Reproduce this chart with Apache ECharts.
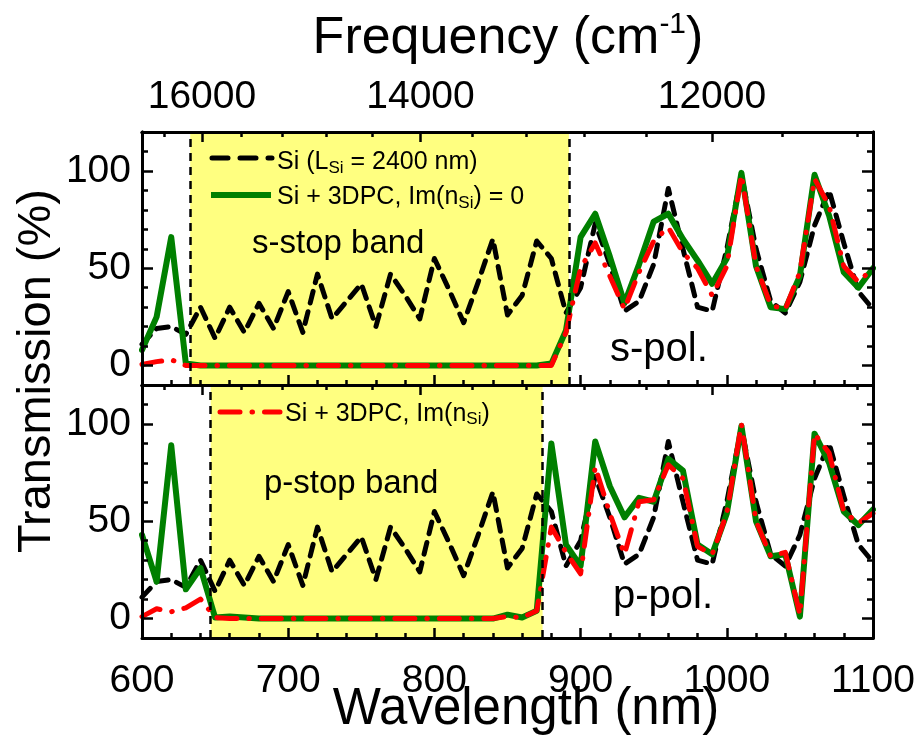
<!DOCTYPE html>
<html>
<head>
<meta charset="utf-8">
<script src="https://cdn.jsdelivr.net/npm/echarts@6/dist/echarts.min.js"></script>
<style>
  html, body { margin: 0; padding: 0; background: #fff; }
  #chart { width: 923px; height: 740px; }
</style>
</head>
<body>
<div id="chart"></div>
<script>
// Wavelength samples (nm)
const wavelength = [600, 610, 620, 630, 640, 650, 660, 670, 680, 690,
  700, 710, 720, 730, 740, 750, 760, 770, 780, 790,
  800, 810, 820, 830, 840, 850, 860, 870, 880, 890,
  900, 910, 920, 930, 940, 950, 960, 970, 980, 990,
  1000, 1010, 1020, 1030, 1040, 1050, 1060, 1070, 1080, 1090, 1100];

// Bare Si slab (L_Si = 2400 nm), same for both polarisations
const siSlab = [11, 19, 20, 16, 30, 14, 30, 17, 32, 19,
  38, 17, 47, 24, 33, 42, 20, 47, 36, 24,
  55, 39, 22, 43, 65, 26, 36, 64, 55, 27,
  40, 73, 52, 28, 33, 52, 91, 60, 30, 28,
  60, 98, 60, 33, 27, 43, 72, 90, 63, 38, 29];

// s-polarisation, Si + 3DPC with Im(n_Si) = 0
const sPolLossless = [8, 25, 66, 1, 0, 0, 0, 0, 0, 0,
  0, 0, 0, 0, 0, 0, 0, 0, 0, 0,
  0, 0, 0, 0, 0, 0, 0, 0, 1, 18,
  66, 78, 56, 32, 52, 74, 78, 65, 54, 42,
  55, 99, 51, 30, 29, 46, 98, 77, 48, 40, 50];

// s-polarisation, Si + 3DPC with Im(n_Si)
const sPolLossy = [0.5, 2, 3, 0, 0, 0, 0, 0, 0, 0,
  0, 0, 0, 0, 0, 0, 0, 0, 0, 0,
  0, 0, 0, 0, 0, 0, 0, 0, 0, 17,
  50, 63, 46, 29, 48, 64, 71, 58, 50, 36,
  51, 98, 51, 31, 29, 48, 96, 82, 51, 43, 50];

// p-polarisation, Si + 3DPC with Im(n_Si) = 0
const pPolLossless = [43, 19, 89, 15, 26, 0.5, 1, 0.5, 0, 0,
  0, 0, 0, 0, 0, 0, 0, 0, 0, 0,
  0, 0, 0, 0, 0, 2, 0.5, 4, 90, 38,
  27, 91, 68, 52, 62, 60, 82, 76, 38, 33,
  54, 99, 50, 32, 33, 1, 95, 80, 55, 48, 56];

// p-polarisation, Si + 3DPC with Im(n_Si)
const pPolLossy = [1, 5, 3.5, 5.5, 10, 0.5, 0, 0, 0, 0,
  0, 0, 0, 0, 0, 0, 0, 0, 0, 0,
  0, 0, 0, 0, 0, 1, 0.5, 4, 47, 34,
  23, 78, 54, 33, 60, 61, 79, 72, 37, 33,
  54, 100, 50, 32, 34, 2, 95, 85, 55, 49, 54];

// Stop bands (nm)
const sStopBand = [633, 892];
const pStopBand = [647, 874];

// Tick labels
const transmissionTicks = [0, 50, 100];
const freqMajorTicks = [16000, 14000, 12000];
const freqMinorTicks = [16400, 15600, 15200, 14800, 14400, 13600, 13200, 12800, 12400, 11600, 11200];

// Calibration of the upper wavenumber scale onto the wavelength axis
const FREQ_K = 1.6744e7;
const FREQ_OFFSET = -405.5;
const freqToAxis = f => FREQ_K / f + FREQ_OFFSET;
const axisToFreq = x => FREQ_K / (x - FREQ_OFFSET);

const FONT = '"Liberation Sans", Arial, Helvetica, sans-serif';
const BLACK = '#000000';
const GREEN = '#008000';
const RED = '#ff0000';
const YELLOW = '#ffff80';

const pairs = ys => wavelength.map((x, i) => [x, ys[i]]);

const axisLine = { show: true, onZero: false, lineStyle: { color: BLACK, width: 3 } };
const tickStyle = { color: BLACK, width: 2.5 };

function wavelengthAxis(grid, showLabels) {
  return {
    type: 'value', gridIndex: grid, position: 'bottom', z: 5,
    min: 600, max: 1100, interval: 100,
    axisLine: axisLine,
    axisTick: { show: true, inside: true, length: 10, lineStyle: tickStyle },
    minorTick: { show: true, splitNumber: 5, length: 5, lineStyle: tickStyle },
    axisLabel: { show: showLabels, fontSize: 39, color: BLACK, fontFamily: FONT, margin: 24, formatter: v => String(v) },
    splitLine: { show: false }, minorSplitLine: { show: false }
  };
}

function freqAxis(grid, ticks, len, showLabels) {
  const pos = ticks.map(freqToAxis);
  return {
    type: 'value', gridIndex: grid, position: 'top', z: 5,
    min: 600, max: 1100,
    axisLine: axisLine,
    axisTick: { show: true, inside: true, length: len, customValues: pos, lineStyle: tickStyle },
    axisLabel: {
      show: showLabels, customValues: pos, fontSize: 39, color: BLACK, fontFamily: FONT, margin: 15,
      formatter: v => String(Math.round(axisToFreq(v) / 100) * 100)
    },
    splitLine: { show: false }
  };
}

function transAxis(grid, side, major, showLabels) {
  const ax = {
    type: 'value', gridIndex: grid, position: side, z: 5,
    min: -10, max: 120,
    axisLine: axisLine,
    splitLine: { show: false }
  };
  if (major) {
    ax.axisTick = { show: true, inside: true, length: 11, customValues: transmissionTicks, lineStyle: tickStyle };
    ax.axisLabel = { show: showLabels, customValues: transmissionTicks, fontSize: 39, color: BLACK, fontFamily: FONT, margin: 11 };
  } else {
    ax.interval = 10;
    ax.axisTick = { show: true, inside: true, length: 6, lineStyle: tickStyle };
    ax.axisLabel = { show: false };
  }
  return ax;
}

function bandSeries(xi, yi, band) {
  return {
    type: 'line', xAxisIndex: xi, yAxisIndex: yi, data: [], z: 1, silent: true,
    markArea: { silent: true, itemStyle: { color: YELLOW }, data: [[{ xAxis: band[0] }, { xAxis: band[1] }]] },
    markLine: {
      silent: true, symbol: ['none', 'none'], label: { show: false },
      lineStyle: { color: BLACK, width: 2.5, type: [8, 6] },
      data: [{ xAxis: band[0] }, { xAxis: band[1] }]
    }
  };
}

function curve(name, xi, yi, ys, color, width, dash) {
  return {
    name: name, type: 'line', xAxisIndex: xi, yAxisIndex: yi, z: 3,
    data: pairs(ys), showSymbol: false, symbol: 'none', clip: true,
    lineStyle: { color: color, width: width, type: dash || 'solid', cap: 'round', join: 'round' }
  };
}

const blackDash = [12, 9];
const redDashDot = [20, 12, 0.5, 12];

const legendRich = { s: { fontSize: 17, lineHeight: 14, verticalAlign: 'bottom', fontFamily: FONT, fill: BLACK } };

const option = {
  animation: false,
  backgroundColor: '#ffffff',
  textStyle: { fontFamily: FONT },
  grid: [
    { left: 142, top: 132, width: 731, height: 253, outerBoundsMode: 'none', containLabel: false },
    { left: 142, top: 385, width: 731, height: 253, outerBoundsMode: 'none', containLabel: false }
  ],
  xAxis: [
    wavelengthAxis(0, false),
    freqAxis(0, freqMinorTicks, 5, false),
    freqAxis(0, freqMajorTicks, 10, true),
    wavelengthAxis(1, true),
    freqAxis(1, freqMinorTicks, 5, false),
    freqAxis(1, freqMajorTicks, 10, false)
  ],
  yAxis: [
    transAxis(0, 'left', false, false),
    transAxis(0, 'left', true, true),
    transAxis(0, 'right', false, false),
    transAxis(0, 'right', true, false),
    transAxis(1, 'left', false, false),
    transAxis(1, 'left', true, true),
    transAxis(1, 'right', false, false),
    transAxis(1, 'right', true, false)
  ],
  series: [
    bandSeries(0, 0, sStopBand),
    curve('Si (L_Si = 2400 nm)', 0, 0, siSlab, BLACK, 5, blackDash),
    curve('Si + 3DPC, Im(n_Si) = 0', 0, 0, sPolLossless, GREEN, 6),
    curve('Si + 3DPC, Im(n_Si)', 0, 0, sPolLossy, RED, 5, redDashDot),
    bandSeries(3, 4, pStopBand),
    curve('Si (L_Si = 2400 nm) p', 3, 4, siSlab, BLACK, 5, blackDash),
    curve('Si + 3DPC, Im(n_Si) = 0 p', 3, 4, pPolLossless, GREEN, 6),
    curve('Si + 3DPC, Im(n_Si) p', 3, 4, pPolLossy, RED, 5, redDashDot)
  ],
  graphic: [
    {
      type: 'text', x: 508, y: 38.5, z: 10,
      style: {
        text: '{m|Frequency (cm}{p|-1}{m|)}', align: 'center', verticalAlign: 'middle',
        rich: {
          m: { fontSize: 52, lineHeight: 58, fontFamily: FONT, fill: BLACK },
          p: { fontSize: 30, lineHeight: 40, verticalAlign: 'top', fontFamily: FONT, fill: BLACK }
        }
      }
    },
    {
      type: 'text', x: 37, y: 371, rotation: Math.PI / 2, z: 10,
      style: { text: 'Transmission (%)', fontSize: 47, fontFamily: FONT, fill: BLACK, align: 'center', verticalAlign: 'middle' }
    },
    {
      type: 'text', x: 526, y: 710, z: 10,
      style: { text: 'Wavelength (nm)', fontSize: 51, fontFamily: FONT, fill: BLACK, align: 'center', verticalAlign: 'middle' }
    },
    {
      type: 'text', x: 252, y: 244, z: 10,
      style: { text: 's-stop band', fontSize: 33, fontFamily: FONT, fill: BLACK, align: 'left', verticalAlign: 'middle' }
    },
    {
      type: 'text', x: 610, y: 350, z: 10,
      style: { text: 's-pol.', fontSize: 40, fontFamily: FONT, fill: BLACK, align: 'left', verticalAlign: 'middle' }
    },
    {
      type: 'text', x: 264, y: 484, z: 10,
      style: { text: 'p-stop band', fontSize: 33, fontFamily: FONT, fill: BLACK, align: 'left', verticalAlign: 'middle' }
    },
    {
      type: 'text', x: 613, y: 597, z: 10,
      style: { text: 'p-pol.', fontSize: 40, fontFamily: FONT, fill: BLACK, align: 'left', verticalAlign: 'middle' }
    },
    // legend, upper panel
    {
      type: 'line', z: 10, shape: { x1: 212, y1: 158, x2: 272, y2: 158 },
      style: { stroke: BLACK, lineWidth: 5, lineDash: [16, 12], lineCap: 'round' }
    },
    {
      type: 'text', x: 277, y: 162.5, z: 10,
      style: {
        text: 'Si (L{s|Si} = 2400 nm)', fontSize: 25, lineHeight: 28, fontFamily: FONT, fill: BLACK,
        align: 'left', verticalAlign: 'middle', rich: legendRich
      }
    },
    {
      type: 'line', z: 10, shape: { x1: 211, y1: 195, x2: 271, y2: 195 },
      style: { stroke: GREEN, lineWidth: 6 }
    },
    {
      type: 'text', x: 277, y: 197.5, z: 10,
      style: {
        text: 'Si + 3DPC, Im(n{s|Si}) = 0', fontSize: 25, lineHeight: 28, fontFamily: FONT, fill: BLACK,
        align: 'left', verticalAlign: 'middle', rich: legendRich
      }
    },
    // legend, lower panel
    {
      type: 'line', z: 10, shape: { x1: 220, y1: 412, x2: 280, y2: 412 },
      style: { stroke: RED, lineWidth: 5, lineDash: redDashDot, lineCap: 'round' }
    },
    {
      type: 'text', x: 285, y: 414, z: 10,
      style: {
        text: 'Si + 3DPC, Im(n{s|Si})', fontSize: 25, lineHeight: 28, fontFamily: FONT, fill: BLACK,
        align: 'left', verticalAlign: 'middle', rich: legendRich
      }
    }
  ]
};

const chart = echarts.init(document.getElementById('chart'), null, { renderer: 'canvas' });
chart.setOption(option);
</script>
</body>
</html>
